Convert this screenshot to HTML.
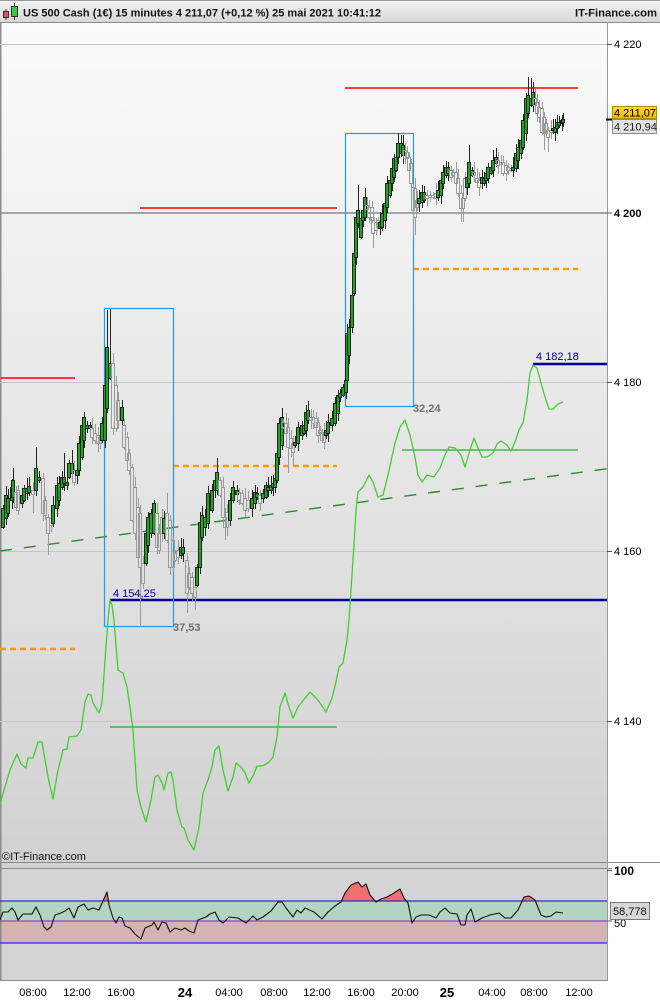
<!DOCTYPE html>
<html><head><meta charset="utf-8"><style>
html,body{margin:0;padding:0;background:#fff;}
svg{display:block;}
text{font-family:"Liberation Sans",Arial,sans-serif;}
</style></head><body>
<svg id="s" width="660" height="1000" viewBox="0 0 660 1000" xmlns="http://www.w3.org/2000/svg">
<defs>
<linearGradient id="bg" x1="0" y1="0" x2="0" y2="1"><stop offset="0" stop-color="#fbfbfb"/><stop offset="1" stop-color="#d1d1d1"/></linearGradient>
<linearGradient id="hd" x1="0" y1="0" x2="0" y2="1"><stop offset="0" stop-color="#f3f3f3"/><stop offset="1" stop-color="#d8d8d8"/></linearGradient>
<linearGradient id="yl" x1="0" y1="0" x2="0" y2="1"><stop offset="0" stop-color="#ffd83a"/><stop offset="1" stop-color="#efb800"/></linearGradient>
<clipPath id="ca"><rect x="0" y="23" width="607" height="839"/></clipPath>
<clipPath id="rc"><rect x="0" y="868" width="607" height="33"/></clipPath>
</defs>
<rect width="660" height="1000" fill="#fff"/>
<!-- chart bg -->
<rect x="0" y="22" width="607" height="846" fill="url(#bg)"/>
<!-- header -->
<rect x="0" y="0" width="660" height="22" fill="url(#hd)"/>
<line x1="0" y1="0.5" x2="660" y2="0.5" stroke="#9a9a9a"/>
<line x1="0" y1="22.5" x2="660" y2="22.5" stroke="#8a8a8a"/>
<line x1="6" y1="9" x2="6" y2="20" stroke="#333"/>
<rect x="3.5" y="11.5" width="5" height="6" fill="#e05555" stroke="#333"/>
<line x1="14.5" y1="3" x2="14.5" y2="20" stroke="#333"/>
<rect x="11.5" y="6.5" width="6" height="10" fill="#33cc33" stroke="#333"/>
<text x="23" y="16.5" font-size="11" font-weight="bold" fill="#111" textLength="358" lengthAdjust="spacingAndGlyphs">US 500 Cash (1€) 15 minutes 4 211,07 (+0,12 %) 25 mai 2021 10:41:12</text>
<text x="575" y="16.5" font-size="11" font-weight="bold" fill="#111" textLength="82" lengthAdjust="spacingAndGlyphs">IT-Finance.com</text>
<!-- left border -->
<line x1="0.75" y1="22" x2="0.75" y2="980" stroke="#8c8c8c" stroke-width="1.5"/>
<!-- grid -->
<g stroke="#c6c6c6" stroke-width="1">
<line x1="0" y1="44.5" x2="607" y2="44.5"/>
<line x1="0" y1="382.5" x2="607" y2="382.5"/>
<line x1="0" y1="551.5" x2="607" y2="551.5"/>
<line x1="0" y1="721.5" x2="607" y2="721.5"/>
</g>
<line x1="0" y1="213" x2="607" y2="213" stroke="#8a8a8a" stroke-width="1.5"/>
<!-- right axis -->
<line x1="607.5" y1="22" x2="607.5" y2="980" stroke="#9a9a9a"/>
<g stroke="#555"><line x1="607" y1="44.5" x2="612" y2="44.5"/><line x1="607" y1="213" x2="612" y2="213"/><line x1="607" y1="382.5" x2="612" y2="382.5"/><line x1="607" y1="551.5" x2="612" y2="551.5"/><line x1="607" y1="721.5" x2="612" y2="721.5"/></g>
<g font-size="11" fill="#000">
<text x="614" y="48">4 220</text>
<text x="614" y="217" font-weight="bold">4 200</text>
<text x="614" y="386">4 180</text>
<text x="614" y="555">4 160</text>
<text x="614" y="725">4 140</text>
</g>
<g clip-path="url(#ca)">
<!-- level lines -->
<line x1="1" y1="378" x2="75" y2="378" stroke="#ff0000" stroke-width="1.5"/>
<line x1="140" y1="208" x2="337" y2="208" stroke="#ff0000" stroke-width="1.5"/>
<line x1="345" y1="88" x2="578" y2="88" stroke="#ff0000" stroke-width="1.5"/>
<g stroke="#ff9a00" stroke-width="2.6" stroke-dasharray="6 4">
<line x1="0" y1="649" x2="75" y2="649"/>
<line x1="173" y1="466" x2="337" y2="466"/>
<line x1="413" y1="269" x2="578" y2="269"/>
</g>
<line x1="110" y1="600" x2="607" y2="600" stroke="#000099" stroke-width="2.5"/>
<line x1="533" y1="364" x2="607" y2="364" stroke="#000099" stroke-width="2.5"/>
<line x1="402" y1="450" x2="578" y2="450" stroke="#18b818" stroke-width="1.3"/>
<line x1="110" y1="727" x2="337" y2="727" stroke="#22aa22" stroke-width="1.3"/>
<line x1="0" y1="551" x2="608" y2="468.6" stroke="#2a8a2a" stroke-width="1.4" stroke-dasharray="12 12"/>
<!-- boxes -->
<rect x="104.5" y="308.5" width="69" height="318" fill="none" stroke="#1e9bf0" stroke-width="1.2"/>
<rect x="345.5" y="133.5" width="68" height="273" fill="none" stroke="#1e9bf0" stroke-width="1.2"/>
<g id="cand"></g>
<!-- oscillator line -->
<polyline fill="none" stroke="#44cc33" stroke-width="1.3" stroke-linejoin="round" points="0,805 2,797 10,770 17,754 21,764 26,768 28,758 33,758 38,742 42,742 48,777 53,799 58,770 63,750 67,749 69,737 77,736 81,730 85,702 88,694 91,695 93,703 99,713 102,703 105,660 108,620 110,600 112,605 114,620 118,670 123,673 127,687 130,707 133,730 137,790 141,807 146,822 151,800 155,777 158,775 162,783 164,790 168,773 171,772 173,780 177,810 182,827 184,828 188,840 194,850 199,827 203,793 208,780 212,767 215,750 219,746 223,770 228,791 233,777 236,763 241,767 245,773 249,783 254,774 257,766 262,766 268,763 273,757 277,737 280,707 285,693 289,707 293,718 298,707 310,692 318,700 326,712 332,698 336,682 339,667 343,663 347,640 349,620 351,590 354,545 356,510 358,492 363,487 369,475 373,482 378,497 383,495 388,475 395,443 400,427 405,420 410,435 415,457 418,475 422,482 427,475 434,477 440,468 445,455 449,447 455,448 461,455 465,467 470,450 474,438 478,448 482,457 487,457 493,453 497,444 501,441 507,445 511,451 515,442 519,430 523,423 527,400 530,373 533,365 537,368 541,383 545,397 549,409 553,409 558,404 563,402"/>
<!-- labels -->
<text x="113" y="597" font-size="11" fill="#000099">4 154,25</text>
<text x="536" y="360" font-size="11" fill="#000099">4 182,18</text>
<text x="173" y="631" font-size="11" font-weight="bold" fill="#707070">37,53</text>
<text x="413" y="412" font-size="11" font-weight="bold" fill="#707070">32,24</text>
</g>
<!-- price labels -->
<line x1="606" y1="119.5" x2="612" y2="119.5" stroke="#000" stroke-width="2"/>
<rect x="612.5" y="106.5" width="44" height="12" fill="url(#yl)" stroke="#b08a00"/>
<text x="614" y="116.5" font-size="11" fill="#000">4 211,07</text>
<rect x="612.5" y="119.5" width="44" height="14" fill="#e2e2e2" stroke="#8a8a8a"/>
<text x="614" y="130.5" font-size="11" fill="#222">4 210,94</text>
<!-- copyright -->
<text x="2" y="860" font-size="11" fill="#111">©IT-Finance.com</text>
<!-- separators -->
<line x1="0" y1="862.5" x2="660" y2="862.5" stroke="#8a8a8a"/>
<line x1="0" y1="868.5" x2="612" y2="868.5" stroke="#8a8a8a"/>
<!-- RSI panel -->
<rect x="0" y="869" width="607" height="111" fill="#d4d4d4"/>
<rect x="0" y="901" width="607" height="20" fill="#b3d3c3"/>
<rect x="0" y="921" width="607" height="22" fill="#d4b3b3"/>
<line x1="0.75" y1="862" x2="0.75" y2="980" stroke="#8c8c8c" stroke-width="1.5"/>
<line x1="607.5" y1="862" x2="607.5" y2="980" stroke="#9a9a9a"/>
<line x1="0" y1="980.5" x2="608" y2="980.5" stroke="#8a8a8a"/>
<polygon clip-path="url(#rc)" fill="#f07070" points="0,901 0,920 3,912 8,912 12,908 15,912 18,920 23,914 32,914 36,907 40,915 44,927 47,930 51,927 55,915 61,913 65,911 69,908 74,918 78,907 84,904 88,910 93,908 99,910 103,901 107,892 109,905 113,918 116,923 119,917 122,918 125,926 130,928 135,934 141,939 145,928 152,925 154,922 158,930 162,922 166,923 170,932 175,928 181,930 185,928 189,931 194,933 198,920 206,917 210,914 215,912 219,920 223,923 229,917 238,918 246,923 253,916 257,920 263,917 271,911 278,902 282,902 286,908 293,917 297,910 301,913 305,908 314,912 322,919 328,912 335,906 341,902 345,893 351,885 358,882 362,887 366,884 370,895 376,902 381,899 387,897 394,893 400,889 404,898 408,903 412,923 416,917 421,915 429,915 436,918 440,912 445,908 450,913 457,914 461,925 465,925 467,915 471,909 475,922 482,918 490,915 499,913 505,918 511,918 518,910 524,897 529,896 535,900 541,915 546,917 551,916 556,912 563,913 563,901"/>
<line x1="0" y1="901" x2="607" y2="901" stroke="#2a2ad8" stroke-width="1.2"/>
<line x1="0" y1="921" x2="607" y2="921" stroke="#8a40e0" stroke-width="1.2"/>
<line x1="0" y1="943" x2="607" y2="943" stroke="#2a2ad8" stroke-width="1.2"/>
<polyline fill="none" stroke="#111" stroke-width="1.1" stroke-linejoin="round" points="0,920 3,912 8,912 12,908 15,912 18,920 23,914 32,914 36,907 40,915 44,927 47,930 51,927 55,915 61,913 65,911 69,908 74,918 78,907 84,904 88,910 93,908 99,910 103,901 107,892 109,905 113,918 116,923 119,917 122,918 125,926 130,928 135,934 141,939 145,928 152,925 154,922 158,930 162,922 166,923 170,932 175,928 181,930 185,928 189,931 194,933 198,920 206,917 210,914 215,912 219,920 223,923 229,917 238,918 246,923 253,916 257,920 263,917 271,911 278,902 282,902 286,908 293,917 297,910 301,913 305,908 314,912 322,919 328,912 335,906 341,902 345,893 351,885 358,882 362,887 366,884 370,895 376,902 381,899 387,897 394,893 400,889 404,898 408,903 412,923 416,917 421,915 429,915 436,918 440,912 445,908 450,913 457,914 461,925 465,925 467,915 471,909 475,922 482,918 490,915 499,913 505,918 511,918 518,910 524,897 529,896 535,900 541,915 546,917 551,916 556,912 563,913"/>
<line x1="607" y1="870.5" x2="612" y2="870.5" stroke="#555"/>
<line x1="607" y1="921" x2="612" y2="921" stroke="#555"/>
<text x="614" y="875" font-size="12" font-weight="bold" fill="#000">100</text>
<text x="614" y="927" font-size="11" fill="#000">50</text>
<rect x="610.5" y="902.5" width="39" height="17" fill="#d8d8d8" stroke="#7a7a7a"/>
<text x="613" y="915" font-size="11" fill="#111">58,778</text>
<!-- x axis -->
<g font-size="11" fill="#000" text-anchor="middle">
<text x="33" y="996">08:00</text>
<text x="77" y="996">12:00</text>
<text x="121" y="996">16:00</text>
<text x="229" y="996">04:00</text>
<text x="274" y="996">08:00</text>
<text x="317" y="996">12:00</text>
<text x="361" y="996">16:00</text>
<text x="405" y="996">20:00</text>
<text x="492" y="996">04:00</text>
<text x="534" y="996">08:00</text>
<text x="579" y="996">12:00</text>
<text x="185" y="997" font-size="13" font-weight="bold">24</text>
<text x="447" y="997" font-size="13" font-weight="bold">25</text>
</g>
</svg>
<script>
(function(){
var D=[[3,508,527,1],[6,495,518,1,486],[8,498,513,1],[12,487,500,1],[13,480,497,1,468],[16,492,507,0],[18,490,510,0,0,515],[22,495,503,1],[24,488,500,1],[27,488,493,1],[29,486,492,1],[33,490,494,0,0,513],[36,468,490,1,447],[39,477,480,1],[43,478,513,0],[45,500,515,0],[48,517,533,0,0,555],[51,518,525,0],[53,505,523,1],[57,485,508,1],[59,483,500,1],[62,477,487,1],[64,477,483,1,453],[67,482,485,1],[69,463,477,1],[72,463,473,1,450],[74,470,482,0],[77,470,475,1],[79,443,470,1],[82,425,457,1],[84,417,440,1,412],[87,425,428,1],[90,425,428,1],[92,428,437,0],[95,433,440,0],[98,435,443,0],[100,437,443,0],[102,423,440,1],[105,385,440,1],[107,347,408,1,310],[110,363,378,1,309],[113,363,428,0],[116,385,428,0],[118,400,420,0],[122,407,420,1],[124,425,447,0],[127,437,460,0],[129,453,470,0],[132,467,520,0],[135,487,533,0],[138,507,557,0],[140,513,567,0,0,625],[143,563,583,0],[146,533,563,1],[148,517,545,1],[151,513,533,1],[154,503,533,1],[157,513,547,0],[159,533,550,0],[162,517,533,0],[164,518,533,1],[167,513,540,0,493],[170,520,567,0],[173,540,567,0],[175,553,560,0],[178,550,557,0],[181,547,555,1],[183,547,553,1],[187,560,593,0,0,613],[189,573,587,0],[192,577,593,0],[195,587,597,0,0,610],[197,567,585,1],[200,522,567,1],[202,515,537,1],[205,517,527,1],[208,493,523,1],[212,490,510,1],[215,480,490,1],[217,472,490,1,458],[220,480,495,0],[223,487,517,0],[225,517,527,0,0,540],[227,512,527,0],[230,500,520,1],[233,487,500,1],[237,490,494,1],[239,492,500,0],[242,493,503,0],[245,498,510,0],[248,500,508,0],[252,498,508,1],[255,492,503,1],[257,493,497,1],[260,495,503,0],[263,493,498,1],[266,485,497,1],[268,487,490,1],[271,485,490,1],[273,483,487,1],[275,478,487,1],[277,453,480,1],[279,423,457,1],[282,417,445,1,408],[283,422,427,0],[286,423,433,0],[288,427,447,0,0,473],[291,438,448,0],[293,443,452,0,0,467],[295,442,445,1],[298,427,443,1],[302,425,435,1],[304,425,433,1],[306,412,430,1,405],[308,410,420,1],[311,417,420,0],[313,417,423,0],[316,418,427,0],[318,422,435,0],[320,430,433,0],[322,432,440,0],[324,433,442,0],[326,430,435,1],[328,422,433,1],[332,418,425,1],[335,403,423,1],[338,395,413,1],[340,393,397,1],[343,387,395,1],[346,380,392,1],[347,333,380,1],[349,327,355,1],[352,295,327,1],[354,253,293,1],[356,217,257,1],[358,210,223,1,185],[361,218,237,1],[363,210,220,1],[365,197,217,1],[367,205,209,0],[369,207,217,0],[372,207,220,0],[373,217,233,0,0,248],[376,222,230,0],[378,220,227,0],[380,222,228,1],[382,213,227,1],[385,203,220,1],[387,183,207,1],[390,180,195,1],[392,168,183,1],[394,158,177,1],[396,157,170,1],[398,143,157,1],[401,143,153,1,135],[403,145,155,1,135],[405,150,158,0],[407,152,158,0],[409,157,170,0],[411,163,183,0],[413,187,210,0,0,237],[415,188,217,0,0,235],[417,200,207,0],[419,198,203,1],[422,192,202,1],[424,192,200,1],[427,195,198,0],[430,195,197,0],[433,195,197,0],[436,193,198,0],[438,190,197,1],[441,180,195,1],[443,172,183,1],[446,167,175,1],[448,167,173,1],[451,170,177,0],[453,172,175,0],[456,172,183,0],[458,178,193,0],[461,193,208,0,0,222],[463,198,208,0,0,222],[465,178,198,0],[467,177,187,1],[469,162,183,1,145],[472,170,175,1],[474,172,175,0],[477,178,182,0],[479,180,187,0],[482,177,183,1],[484,178,183,1],[486,173,180,1],[488,167,178,1],[491,167,173,1],[493,160,170,1],[496,157,163,1],[498,160,165,0],[501,162,164,0],[503,162,173,0],[506,165,173,0],[508,167,170,0],[511,168,170,0],[513,167,170,1],[516,153,168,1],[518,147,160,1],[521,140,153,1],[523,120,147,1],[526,98,133,1],[528,95,113,1,77],[531,98,105,1,78],[533,92,105,1],[535,98,105,0],[537,102,113,0,0,122],[539,107,117,0],[542,108,132,0],[544,117,133,0,0,150],[546,123,133,0],[548,130,137,0,0,152],[551,130,132,0],[553,128,130,1],[555,127,132,1],[557,122,128,1],[559,122,125,1],[562,120,123,1,115],[563,119,122,1,113]];
var s='';
for(var i=0;i<D.length;i++){
 var c=D[i],x=c[0],t=c[1],b=c[2],g=c[3];
 var wt=c[4]||(t-(3+(i*7)%8)), wb=c[5]||(b+(2+(i*5)%8));
 var col=g?'#222':'#9a9a9a';
 var wx=x+0.5;
 s+='<line x1="'+wx+'" y1="'+wt+'" x2="'+wx+'" y2="'+t+'" stroke="'+col+'"/>';
 s+='<line x1="'+wx+'" y1="'+b+'" x2="'+wx+'" y2="'+wb+'" stroke="'+col+'"/>';
 var h=Math.max(b-t,1);
 s+='<rect x="'+(x-1.5)+'" y="'+(t+0.5)+'" width="3" height="'+h+'" fill="'+(g?'#1fa51f':'none')+'" stroke="'+col+'"/>';
}
document.getElementById('cand').innerHTML=s;
})();
</script>
</body></html>
